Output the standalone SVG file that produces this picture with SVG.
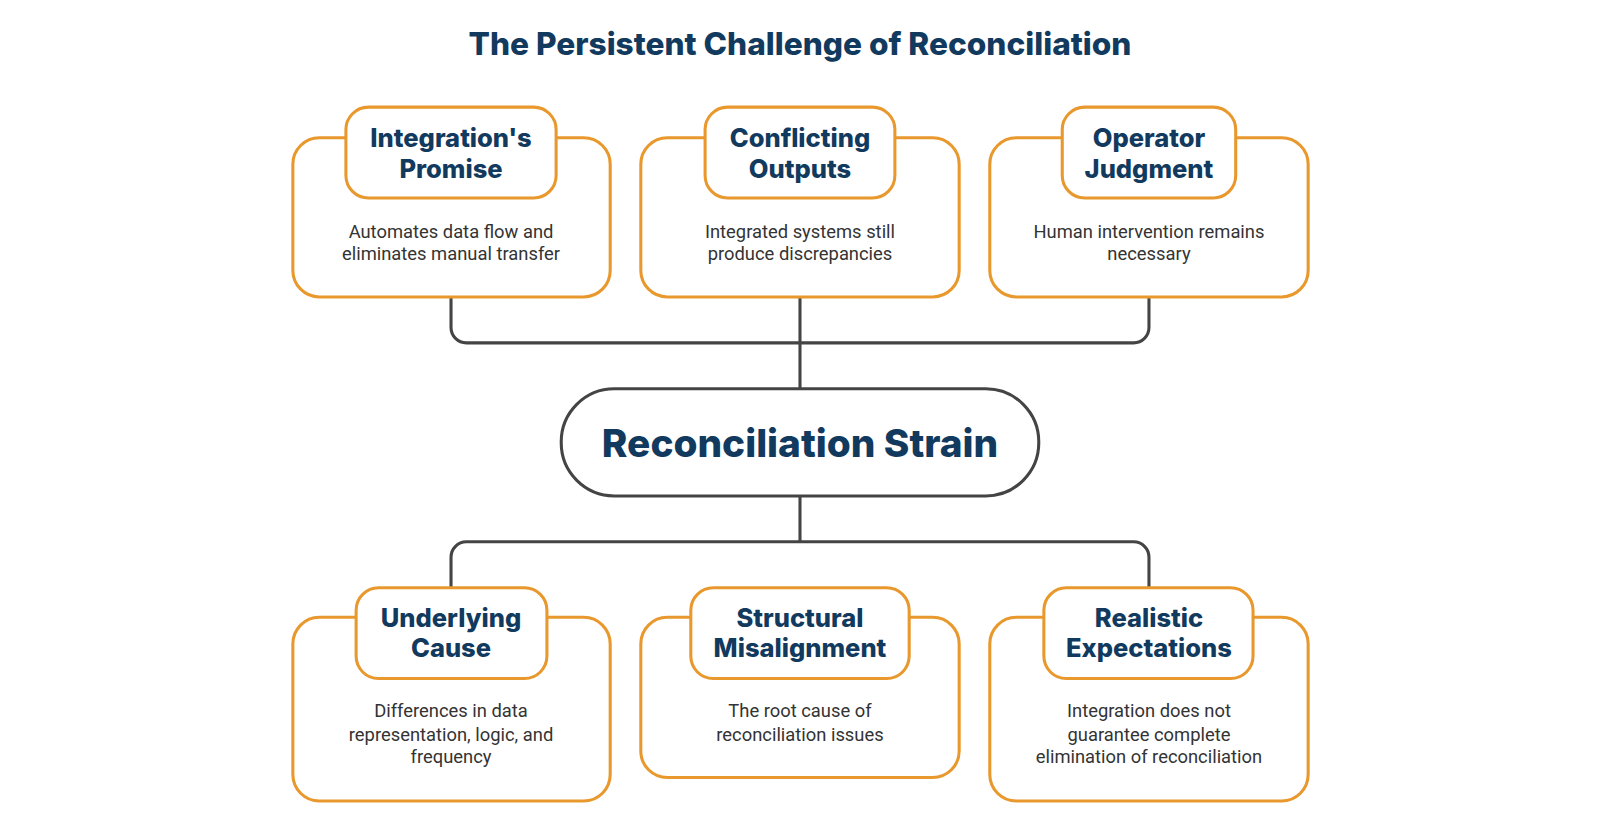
<svg xmlns="http://www.w3.org/2000/svg" width="1600" height="840" viewBox="0 0 1600 840">
<style>
.card{fill:#fff;stroke:#E8982C;stroke-width:3}
.pill{fill:#fff;stroke:#E8982C;stroke-width:3}
.h{font-family:Inter,"Noto Sans",sans-serif;font-weight:800;font-size:25px;fill:#123A5E;text-anchor:middle}
.b{font-family:Roboto,"Liberation Sans",sans-serif;font-size:18px;fill:#333;text-anchor:middle}
.c{fill:none;stroke:#444;stroke-width:3}
</style>
<rect width="1600" height="840" fill="#fff"/>
<g transform="scale(1.0204)">
<text x="784" y="54" class="h" style="font-size:31px">The Persistent Challenge of Reconciliation</text>
<g id="connectors">
<path class="c" d="M442 291V321a15 15 0 0 0 15 15H1111a15 15 0 0 0 15-15V291M784 291V381"/>
<path class="c" d="M784 486V531M442 576V546a15 15 0 0 1 15-15H1111a15 15 0 0 1 15 15V576"/>
</g>
<g id="center"><rect x="550" y="381" width="468" height="105" rx="52" fill="#fff" stroke="#444" stroke-width="3"/>
<text x="784" y="448" class="h" style="font-size:38px">Reconciliation Strain</text></g>
<g id="n1"><rect class="card" x="287" y="135" width="311" height="156" rx="26"/><rect class="pill" x="339" y="105" width="206" height="89" rx="22"/>
<text class="h" x="442" y="144">Integration's</text><text class="h" x="442" y="174">Promise</text>
<text class="b" x="442" y="233">Automates data flow and</text><text class="b" x="442" y="255">eliminates manual transfer</text></g>
<g id="n2"><rect class="card" x="628" y="135" width="312" height="156" rx="26"/><rect class="pill" x="691" y="105" width="186" height="89" rx="22"/>
<text class="h" x="784" y="144">Conflicting</text><text class="h" x="784" y="174">Outputs</text>
<text class="b" x="784" y="233">Integrated systems still</text><text class="b" x="784" y="255">produce discrepancies</text></g>
<g id="n3"><rect class="card" x="970" y="135" width="312" height="156" rx="26"/><rect class="pill" x="1041" y="105" width="170" height="89" rx="22"/>
<text class="h" x="1126" y="144">Operator</text><text class="h" x="1126" y="174">Judgment</text>
<text class="b" x="1126" y="233">Human intervention remains</text><text class="b" x="1126" y="255">necessary</text></g>
<g id="n4"><rect class="card" x="287" y="605" width="311" height="180" rx="26"/><rect class="pill" x="349" y="576" width="187" height="89" rx="22"/>
<text class="h" x="442" y="614">Underlying</text><text class="h" x="442" y="644">Cause</text>
<text class="b" x="442" y="703">Differences in data</text><text class="b" x="442" y="726">representation, logic, and</text><text class="b" x="442" y="748">frequency</text></g>
<g id="n5"><rect class="card" x="628" y="605" width="312" height="157" rx="26"/><rect class="pill" x="677" y="576" width="214" height="89" rx="22"/>
<text class="h" x="784" y="614">Structural</text><text class="h" x="784" y="644">Misalignment</text>
<text class="b" x="784" y="703">The root cause of</text><text class="b" x="784" y="726">reconciliation issues</text></g>
<g id="n6"><rect class="card" x="970" y="605" width="312" height="180" rx="26"/><rect class="pill" x="1023" y="576" width="205" height="89" rx="22"/>
<text class="h" x="1126" y="614">Realistic</text><text class="h" x="1126" y="644">Expectations</text>
<text class="b" x="1126" y="703">Integration does not</text><text class="b" x="1126" y="726">guarantee complete</text><text class="b" x="1126" y="748">elimination of reconciliation</text></g>
</g>
</svg>
